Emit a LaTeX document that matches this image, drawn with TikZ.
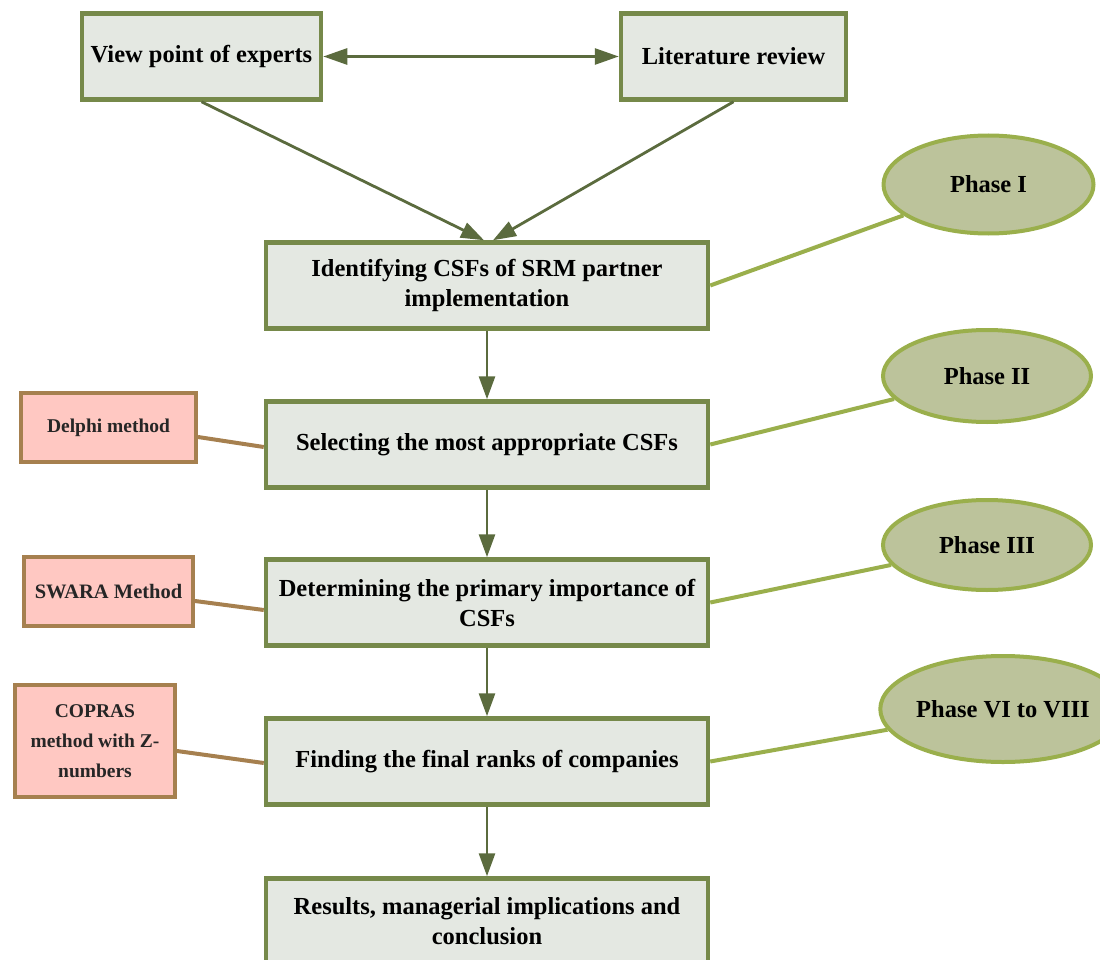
\documentclass[tikz,border=0pt]{standalone}
\usepackage{fontspec}
\setmainfont{Liberation Serif}
\usetikzlibrary{arrows.meta,shapes.geometric}
\definecolor{boxfill}{HTML}{E4E8E2}
\definecolor{boxdraw}{HTML}{76894A}
\definecolor{arr}{HTML}{5B6B3E}
\definecolor{ellfill}{HTML}{BCC39B}
\definecolor{elldraw}{HTML}{9AAF4C}
\definecolor{pinkfill}{HTML}{FFC8C2}
\definecolor{brownline}{HTML}{A6804F}
\definecolor{darktext}{HTML}{262626}
\begin{document}
\begin{tikzpicture}[x=1pt,y=-1pt,
  mainbox/.style={draw=boxdraw,fill=boxfill,line width=4.5pt,minimum width=442pt,minimum height=86pt,
    align=center,font=\fontsize{24.5}{30}\selectfont\bfseries,inner sep=0pt},
  topbox/.style={mainbox,minimum height=86pt},
  phase/.style={ellipse,draw=elldraw,fill=ellfill,line width=4pt,inner sep=0pt,
    font=\fontsize{24.5}{26}\selectfont\bfseries},
  method/.style={draw=brownline,fill=pinkfill,line width=4pt,inner sep=0pt,align=center,
    text=darktext,font=\fontsize{19.5}{30}\selectfont\bfseries},
  flow/.style={draw=arr,line width=2.8pt,-{Triangle[length=23pt,width=16pt]}},
  phaseline/.style={draw=elldraw,line width=4pt},
  methodline/.style={draw=brownline,line width=4pt}
]
\useasboundingbox (0,0) rectangle (1100,960);
\clip (0,0) rectangle (1100,960);

\node[topbox,minimum width=239pt] (expert) at (201.5,56.5) {View point of experts};
\node[topbox,minimum width=225pt] (lit) at (733.5,56.5) {Literature review};

\node[mainbox] (ident) at (487,285.5) {Identifying CSFs of SRM partner\\implementation};
\node[mainbox] (sel) at (487,444.5) {Selecting the most appropriate CSFs};
\node[mainbox] (det) at (487,602.5) {Determining the primary importance of\\CSFs};
\node[mainbox] (find) at (487,761.5) {Finding the final ranks of companies};
\node[mainbox] (res) at (487,921.5) {Results, managerial implications and\\conclusion};

\node[phase,minimum width=210pt,minimum height=98pt] (p1) at (988.5,184.5) {Phase I};
\node[phase,minimum width=208pt,minimum height=92pt] (p2) at (987,376) {Phase II};
\node[phase,minimum width=208pt,minimum height=90pt] (p3) at (987,545) {Phase III};
\node[phase,minimum width=214pt,minimum height=106pt] (p4) at (1003,709) {Phase VI to VIII};

\node[method,minimum width=175pt,minimum height=69pt] (delphi) at (108.5,427.5) {Delphi method};
\node[method,minimum width=169pt,minimum height=69pt,font=\fontsize{20.5}{28}\selectfont\bfseries] (swara) at (108.5,591.5) {SWARA Method};
\node[method,minimum width=160pt,minimum height=112pt] (copras) at (95,741) {COPRAS\\method with Z-\\numbers};

\draw[flow,{Triangle[length=24pt,width=16pt]}-{Triangle[length=24pt,width=16pt]}] (expert.east) -- (lit.west);
\draw[flow] (expert.south) -- ([xshift=-3pt]ident.north);
\draw[flow] (lit.south) -- ([xshift=6pt]ident.north);
\draw[flow] (ident.south) -- (sel.north);
\draw[flow] (sel.south) -- (det.north);
\draw[flow] (det.south) -- (find.north);
\draw[flow] (find.south) -- (res.north);

\draw[phaseline] (ident.east) -- (p1);
\draw[phaseline] (sel.east) -- (p2);
\draw[phaseline] (det.east) -- (p3);
\draw[phaseline] (find.east) -- (p4);

\draw[methodline] ([yshift=-9.5pt]delphi.east) -- ([yshift=-2.5pt]sel.west);
\draw[methodline] ([yshift=-9.5pt]swara.east) -- ([yshift=-7.5pt]det.west);
\draw[methodline] ([yshift=-10pt]copras.east) -- ([yshift=-1.5pt]find.west);
\end{tikzpicture}
\end{document}
